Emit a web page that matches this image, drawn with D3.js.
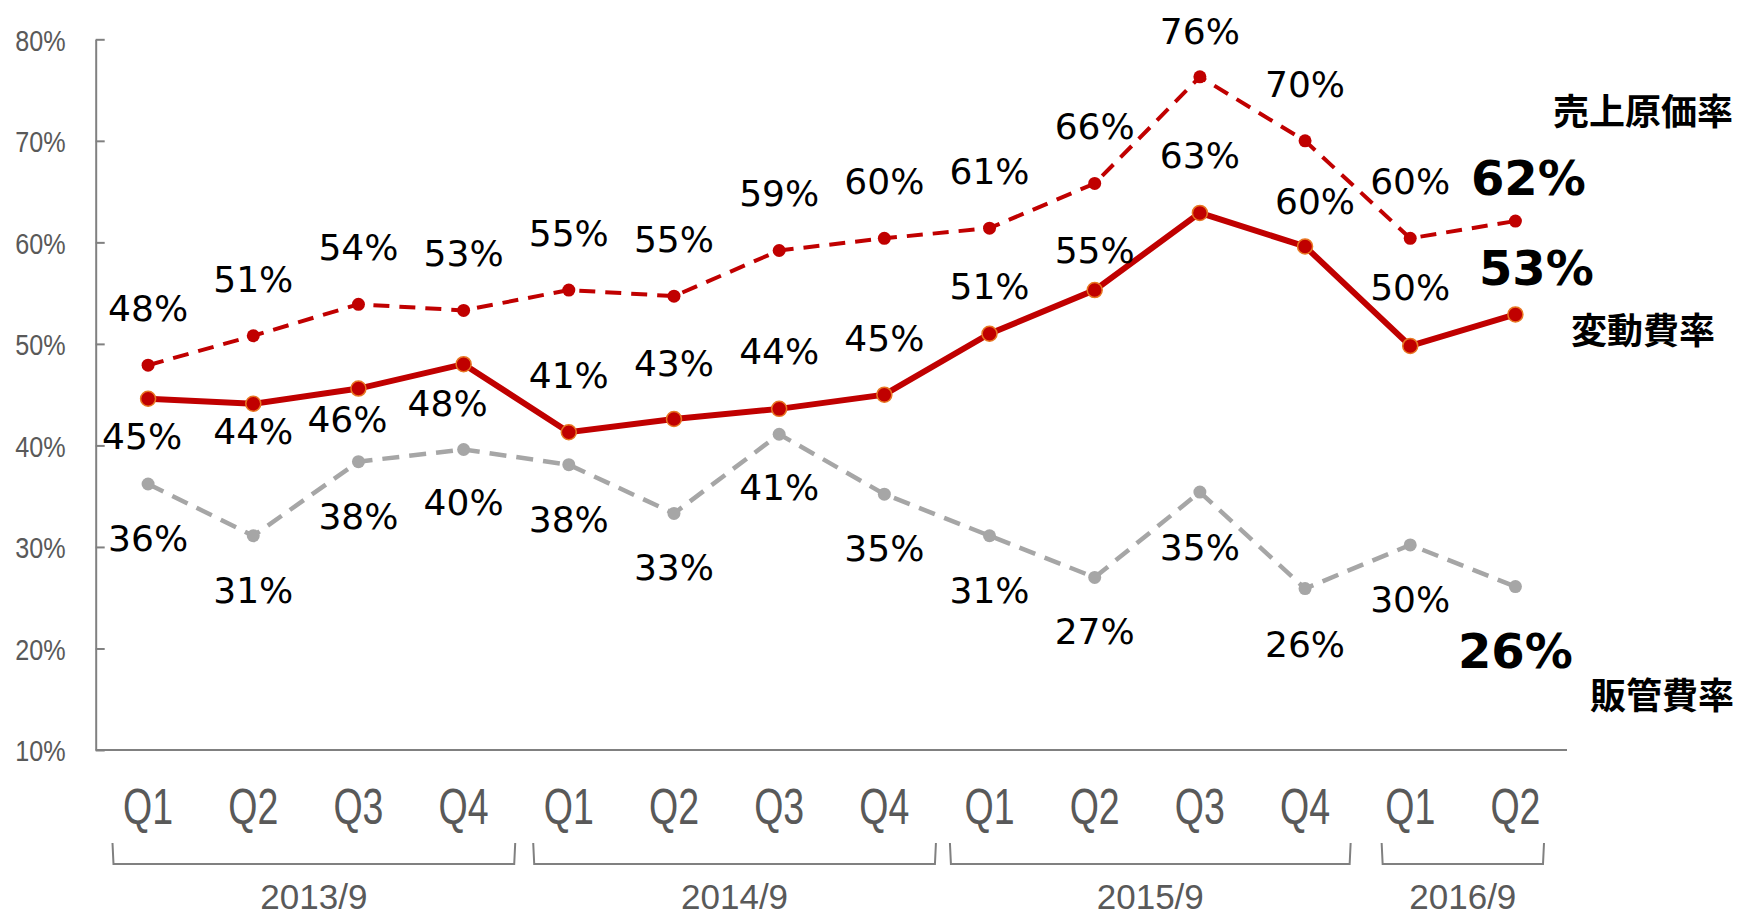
<!DOCTYPE html>
<html>
<head>
<meta charset="utf-8">
<script src="https://cdn.jsdelivr.net/npm/d3@7"></script>
<style>
  body { margin: 0; background: #fff; }
  svg { display: block; }
</style>
</head>
<body>
<svg width="1740" height="918"></svg>
<script>
// data
var quarters = ["Q1","Q2","Q3","Q4","Q1","Q2","Q3","Q4","Q1","Q2","Q3","Q4","Q1","Q2"];
var years = ["2013/9","2014/9","2015/9","2016/9"];
var yearCounts = [4, 4, 4, 2];
var costRate = [47.9,50.8,53.9,53.3,55.3,54.7,59.2,60.4,61.4,65.8,76.3,70.0,60.4,62.1];  // 売上原価率
var varRate  = [44.6,44.1,45.6,48.0,41.3,42.6,43.6,45.0,51.0,55.3,62.9,59.6,49.8,52.9];  // 変動費率
var sgaRate  = [36.2,31.1,38.4,39.6,38.1,33.3,41.1,35.2,31.1,27.0,35.4,25.9,30.2,26.1];  // 販管費率
var yTicks = [10, 20, 30, 40, 50, 60, 70, 80];
var seriesNames = ["売上原価率", "変動費率", "販管費率"];

// label placement (layout only)
var costDy = [-44,-44,-44,-44,-44,-44,-44,-44,-44,-44,-33,-44,-44,-26];
var costDx = [0,0,0,0,0,0,0,0,0,0,0,0,0,13];
var varDy  = [50,40,43,52,-44,-43,-45,-44,-35,-27,-45,-32,-46,-29];
var varDx  = [-6,0,-11,-16,0,0,0,0,0,0,0,10,0,21];
var sgaDy  = [67,67,67,66,67,67,66,67,67,67,68,68,67,81];
var sgaDx  = [0,0,0,0,0,0,0,0,0,0,0,0,0,0];

var svg = d3.select("svg");
var idx = d3.range(quarters.length);

var x = d3.scaleBand().domain(idx).range([95.5, 1568]).padding(0);
var bw = x.bandwidth();
var cx = function(i) { return x(i) + bw / 2; };
var y = d3.scaleLinear().domain([10, 80]).range([750, 39.3]);

var axisColor = "#808080";
var textGray = "#595959";

// y axis
var yAxis = d3.axisLeft(y)
  .tickValues(yTicks)
  .tickSizeInner(-9)
  .tickSizeOuter(0)
  .tickFormat(function(d) { return d + "%"; });

var yG = svg.append("g")
  .attr("transform", "translate(95.7,0)")
  .call(yAxis);
yG.select(".domain").attr("stroke", axisColor).attr("stroke-width", 2);
yG.selectAll(".tick line").attr("stroke", axisColor).attr("stroke-width", 2);
yG.selectAll(".tick text")
  .attr("x", 0)
  .attr("dy", "0.36em")
  .attr("transform", "translate(-30,0) scale(0.84,1)")
  .attr("fill", textGray)
  .style("font-family", "'Liberation Sans', Arial, sans-serif")
  .style("font-size", "30px");

// x axis
var xAxis = d3.axisBottom(x)
  .tickSize(0)
  .tickPadding(39)
  .tickFormat(function(i) { return quarters[i]; });

var xG = svg.append("g")
  .attr("transform", "translate(0,750)")
  .call(xAxis);
xG.select(".domain")
  .attr("d", "M95.7,0H1567")
  .attr("stroke", axisColor).attr("stroke-width", 2);
xG.selectAll(".tick text")
  .attr("transform", "scale(0.75,1)")
  .attr("fill", textGray)
  .style("font-family", "'Liberation Sans', Arial, sans-serif")
  .style("font-size", "50px");

// year brackets
var bracketInset = [[17, 1], [17, 1], [13, 7], [24, 24]];
var start = 0;
years.forEach(function(yr, k) {
  var first = start, last = start + yearCounts[k] - 1;
  var x0 = x(first) + bracketInset[k][0];
  var x1 = x(last) + bw - bracketInset[k][1];
  svg.append("path")
    .attr("d", "M" + x0 + ",843L" + (x0 + 1) + ",864L" + (x1 - 1) + ",864L" + x1 + ",843")
    .attr("fill", "none")
    .attr("stroke", axisColor)
    .attr("stroke-width", 2);
  svg.append("text")
    .attr("x", (x0 + x1) / 2)
    .attr("y", 909)
    .attr("text-anchor", "middle")
    .attr("fill", textGray)
    .style("font-family", "'Liberation Sans', Arial, sans-serif")
    .style("font-size", "35px")
    .text(yr);
  start += yearCounts[k];
});

// lines
var line = function(vals) {
  return d3.line()
    .x(function(d, i) { return cx(i); })
    .y(function(d) { return y(d); })(vals);
};

var series = [
  {vals: sgaRate, color: "#A6A6A6", width: 4.5, dash: "17,10", r: 6.5, stroke: "none", dy: sgaDy, dx: sgaDx},
  {vals: costRate, color: "#C00000", width: 4, dash: "16,10", r: 6.5, stroke: "none", dy: costDy, dx: costDx},
  {vals: varRate, color: "#C00000", width: 6, dash: null, r: 7.5, stroke: "#E87722", dy: varDy, dx: varDx}
];

series.forEach(function(s) {
  svg.append("path")
    .attr("d", line(s.vals))
    .attr("fill", "none")
    .attr("stroke", s.color)
    .attr("stroke-width", s.width)
    .attr("stroke-dasharray", s.dash);
  svg.append("g").selectAll("circle")
    .data(s.vals).enter()
    .append("circle")
    .attr("cx", function(d, i) { return cx(i); })
    .attr("cy", function(d) { return y(d); })
    .attr("r", s.r)
    .attr("fill", s.color)
    .attr("stroke", s.stroke)
    .attr("stroke-width", 1.5);
});

// value labels
series.forEach(function(s) {
  svg.append("g").selectAll("text")
    .data(s.vals).enter()
    .append("text")
    .attr("x", function(d, i) { return cx(i) + s.dx[i]; })
    .attr("y", function(d, i) { return y(d) + s.dy[i]; })
    .attr("text-anchor", "middle")
    .attr("fill", "#000")
    .style("font-family", "'DejaVu Sans', Verdana, sans-serif")
    .style("font-size", function(d, i) { return i === s.vals.length - 1 ? "48px" : "36px"; })
    .style("font-weight", function(d, i) { return i === s.vals.length - 1 ? "bold" : "normal"; })
    .text(function(d) { return Math.round(d) + "%"; });
});

// series names
var namePos = [[1553, 109], [1571, 328], [1590, 693]];
seriesNames.forEach(function(n, k) {
  svg.append("text")
    .attr("x", namePos[k][0])
    .attr("y", namePos[k][1])
    .attr("dominant-baseline", "central")
    .attr("fill", "#000")
    .style("font-family", "'Noto Sans CJK JP', sans-serif")
    .style("font-weight", "bold")
    .style("font-size", "36px")
    .text(n);
});
</script>
</body>
</html>
